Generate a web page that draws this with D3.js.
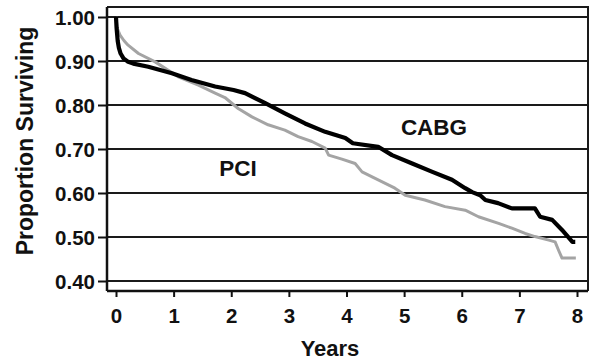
<!DOCTYPE html>
<html>
<head>
<meta charset="utf-8">
<script src="https://cdn.jsdelivr.net/npm/d3@7"></script>
<style>
  html, body { margin: 0; padding: 0; background: #fff; }
  svg { display: block; }
  text { font-family: "Liberation Sans", Arial, Helvetica, sans-serif; font-weight: bold; fill: #111; }
</style>
</head>
<body>
<svg id="chart" width="596" height="361"></svg>
<script>
// Kaplan-Meier survival estimates, years since revascularisation
const cabgYears = [0, 0.01, 0.03, 0.05, 0.08, 0.13, 0.2, 0.3, 0.56, 0.97, 1.31, 1.72, 2.04, 2.24, 2.59, 2.93, 3.28, 3.63, 3.98, 4.11, 4.55, 4.79, 5.14, 5.49, 5.83, 6.06, 6.18, 6.32, 6.41, 6.63, 6.87, 7.27, 7.36, 7.57, 7.74, 7.92, 7.97];
const cabgSurvival = [1.0, 0.975, 0.945, 0.93, 0.917, 0.906, 0.899, 0.894, 0.887, 0.872, 0.857, 0.842, 0.834, 0.827, 0.804, 0.781, 0.758, 0.739, 0.725, 0.713, 0.705, 0.686, 0.667, 0.648, 0.630, 0.611, 0.602, 0.595, 0.584, 0.577, 0.565, 0.565, 0.546, 0.539, 0.516, 0.489, 0.489];

const pciYears = [0, 0.02, 0.07, 0.14, 0.21, 0.39, 0.68, 1.08, 1.43, 1.72, 1.89, 2.12, 2.36, 2.64, 2.93, 3.16, 3.40, 3.63, 3.69, 3.92, 4.15, 4.27, 4.55, 4.84, 5.02, 5.36, 5.71, 6.06, 6.29, 6.64, 6.87, 7.10, 7.27, 7.51, 7.62, 7.68, 7.74, 7.98];
const pciSurvival = [1.0, 0.975, 0.959, 0.946, 0.936, 0.917, 0.898, 0.864, 0.845, 0.827, 0.817, 0.792, 0.773, 0.755, 0.743, 0.728, 0.717, 0.702, 0.686, 0.677, 0.667, 0.648, 0.630, 0.611, 0.595, 0.584, 0.569, 0.561, 0.546, 0.531, 0.520, 0.508, 0.501, 0.493, 0.489, 0.470, 0.452, 0.452];

const xTicks = [0, 1, 2, 3, 4, 5, 6, 7, 8];
const yTicks = [0.40, 0.50, 0.60, 0.70, 0.80, 0.90, 1.00];
const yTickLabels = ["0.40", "0.50", "0.60", "0.70", "0.80", "0.90", "1.00"];

const svg = d3.select("#chart");

const x = d3.scaleLinear().domain([0, 8]).range([116, 577]);
const y = d3.scaleLinear().domain([0.4, 1.0]).range([281, 17]);

// plot frame edges
const frame = { left: 107, right: 588, top: 7, bottom: 291 };

// horizontal reference lines at every tick
svg.append("g")
  .selectAll("line")
  .data(yTicks)
  .join("line")
  .attr("x1", frame.left)
  .attr("x2", frame.right)
  .attr("y1", d => y(d))
  .attr("y2", d => y(d))
  .attr("stroke", "#1a1a1a")
  .attr("stroke-width", 2);

// frame: top and right edges
svg.append("path")
  .attr("d", `M${frame.left},${frame.top}H${frame.right}V${frame.bottom}`)
  .attr("fill", "none")
  .attr("stroke", "#1a1a1a")
  .attr("stroke-width", 2);

// y axis
const yAxis = d3.axisLeft(y)
  .tickValues(yTicks)
  .tickFormat((d, i) => yTickLabels[i])
  .tickSize(9)
  .tickPadding(3);
const gy = svg.append("g")
  .attr("transform", `translate(${frame.left},0)`)
  .call(yAxis);
gy.select(".domain").remove();
gy.append("line")
  .attr("x1", 0).attr("x2", 0)
  .attr("y1", frame.top).attr("y2", frame.bottom)
  .attr("stroke", "#111").attr("stroke-width", 2.5);
gy.selectAll(".tick line").attr("stroke", "#111").attr("stroke-width", 2);
gy.selectAll(".tick text")
  .attr("font-size", 20.5)
  .attr("font-family", "Liberation Sans, Arial, sans-serif")
  .attr("font-weight", "bold")
  .attr("fill", "#111")
  .attr("dy", "0.36em");

// x axis
const xAxis = d3.axisBottom(x)
  .tickValues(xTicks)
  .tickFormat(d3.format("d"))
  .tickSize(6)
  .tickPadding(11);
const gx = svg.append("g")
  .attr("transform", `translate(0,${frame.bottom})`)
  .call(xAxis);
gx.select(".domain").remove();
gx.append("line")
  .attr("x1", frame.left).attr("x2", frame.right)
  .attr("y1", 0).attr("y2", 0)
  .attr("stroke", "#111").attr("stroke-width", 2.5);
gx.selectAll(".tick line").attr("stroke", "#111").attr("stroke-width", 2);
gx.selectAll(".tick text")
  .attr("font-size", 20.5)
  .attr("font-family", "Liberation Sans, Arial, sans-serif")
  .attr("font-weight", "bold")
  .attr("fill", "#111");

// survival curves
const line = d3.line()
  .x(d => x(d[0]))
  .y(d => y(d[1]))
  .curve(d3.curveLinear);

svg.append("path")
  .datum(d3.zip(pciYears, pciSurvival))
  .attr("d", line)
  .attr("fill", "none")
  .attr("stroke", "#a4a4a4")
  .attr("stroke-width", 3)
  .attr("stroke-linejoin", "round");

svg.append("path")
  .datum(d3.zip(cabgYears, cabgSurvival))
  .attr("d", line)
  .attr("fill", "none")
  .attr("stroke", "#000")
  .attr("stroke-width", 4.2)
  .attr("stroke-linejoin", "round");

// series labels
svg.append("text")
  .attr("x", 434).attr("y", 135)
  .attr("text-anchor", "middle")
  .attr("font-size", 22.5)
  .text("CABG");

svg.append("text")
  .attr("x", 238).attr("y", 176)
  .attr("text-anchor", "middle")
  .attr("font-size", 22.5)
  .text("PCI");

// axis titles
svg.append("text")
  .attr("x", 330).attr("y", 356)
  .attr("text-anchor", "middle")
  .attr("font-size", 22)
  .text("Years");

svg.append("text")
  .attr("transform", "translate(33,141) rotate(-90)")
  .attr("text-anchor", "middle")
  .attr("font-size", 23)
  .text("Proportion Surviving");
</script>
</body>
</html>
